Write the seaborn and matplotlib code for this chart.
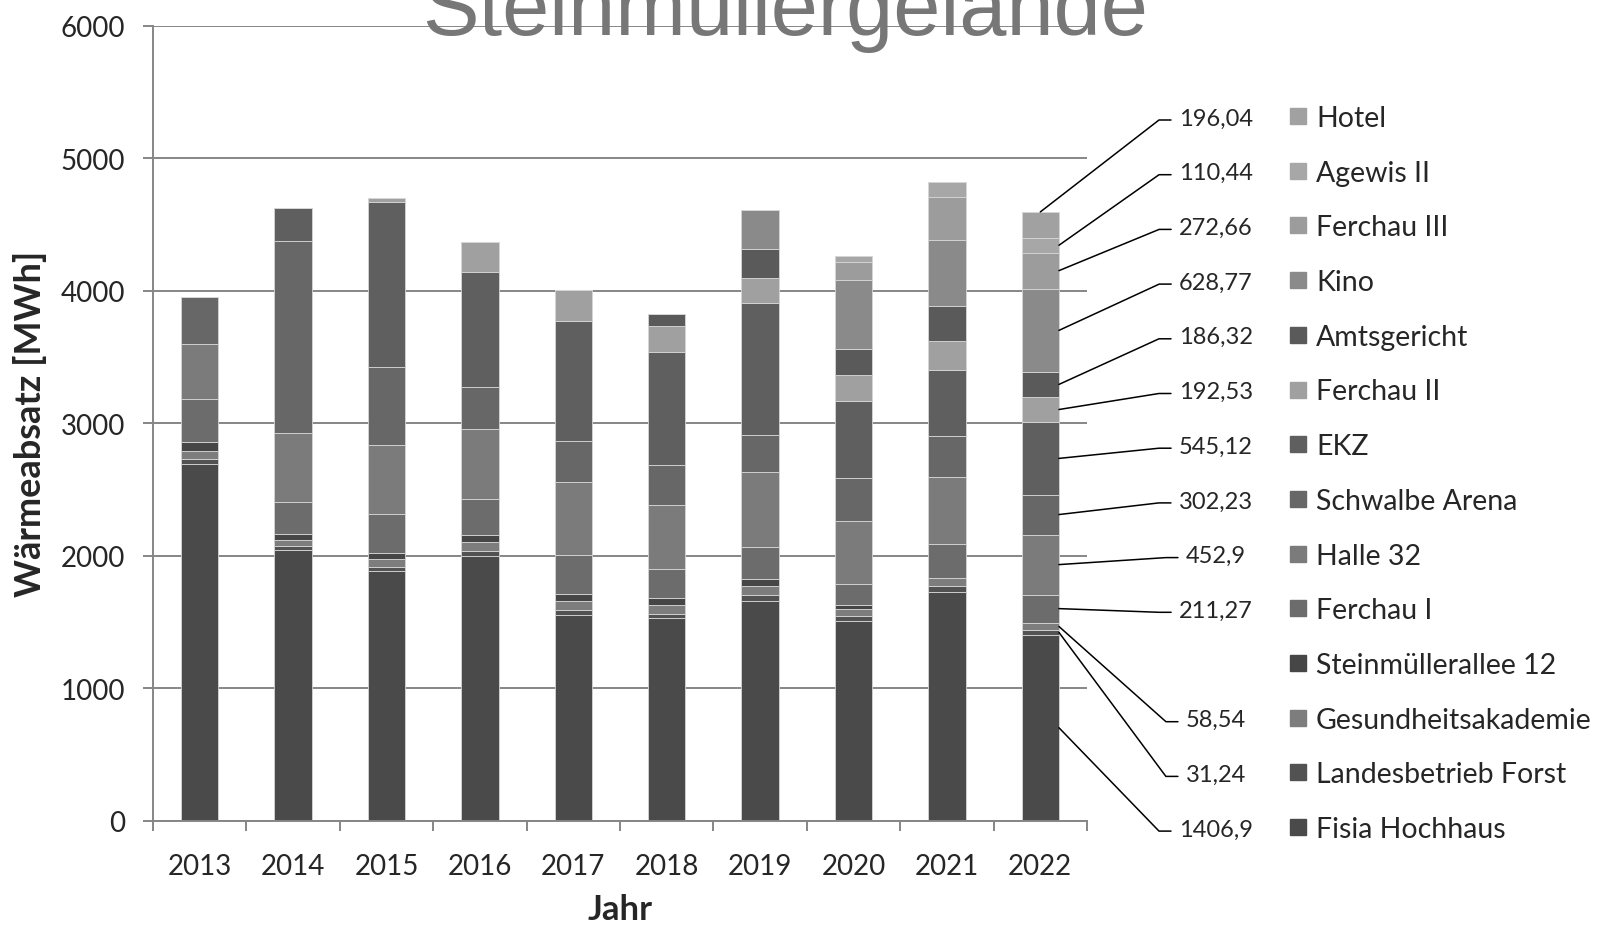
import numpy as np
import matplotlib
matplotlib.use('Agg')
import matplotlib.pyplot as plt
from matplotlib.lines import Line2D
from matplotlib.patches import Rectangle
import seaborn as sns

# Jahre und Verbraucher (Reihenfolge von unten nach oben im Stapel)
jahre = ["2013", "2014", "2015", "2016", "2017", "2018", "2019", "2020", "2021", "2022"]
objekte = ["Fisia Hochhaus", "Landesbetrieb Forst", "Gesundheitsakademie", "Steinmüllerallee 12",
           "Ferchau I", "Halle 32", "Schwalbe Arena", "EKZ", "Ferchau II", "Amtsgericht",
           "Kino", "Ferchau III", "Agewis II", "Hotel"]

# Wärmeabsatz in MWh je Objekt und Jahr (2013 ... 2022)
fisia_hochhaus = [2691, 2048, 1887, 1997, 1553, 1535, 1663, 1508, 1731, 1406.9]
landesbetrieb_forst = [38, 27, 28, 43, 37, 30, 43, 37, 43, 31.24]
gesundheitsakademie = [63, 48, 65, 68, 73, 68, 70, 58, 63, 58.54]
steinmuellerallee_12 = [65, 45, 40, 53, 46, 50, 46, 25, 0, 0]
ferchau_1 = [327, 242, 299, 271, 297, 220, 243, 162, 251, 211.27]
halle_32 = [417, 515, 515, 523, 555, 479, 571, 476, 508, 452.9]
schwalbe_arena = [351, 1454, 593, 322, 309, 302, 279, 320, 309, 302.23]
ekz = [0, 249, 1244, 864, 901, 854, 992, 583, 495, 545.12]
ferchau_2 = [0, 0, 30, 228, 234, 193, 193, 193, 224, 192.53]
amtsgericht = [0, 0, 0, 0, 0, 96, 219, 201, 261, 186.32]
kino = [0, 0, 0, 0, 0, 0, 294, 520, 497, 628.77]
ferchau_3 = [0, 0, 0, 0, 0, 0, 0, 131, 322, 272.66]
agewis_2 = [0, 0, 0, 0, 0, 0, 0, 50, 120, 110.44]
hotel = [0, 0, 0, 0, 0, 0, 0, 0, 0, 196.04]

werte = [fisia_hochhaus, landesbetrieb_forst, gesundheitsakademie, steinmuellerallee_12,
         ferchau_1, halle_32, schwalbe_arena, ekz, ferchau_2, amtsgericht,
         kino, ferchau_3, agewis_2, hotel]

farben = ["#4a4a4a", "#525252", "#7d7d7d", "#464646", "#6c6c6c", "#7b7b7b", "#676767",
          "#5f5f5f", "#a0a0a0", "#5a5a5a", "#8a8a8a", "#9c9c9c", "#a7a7a7", "#a1a1a1"]

W, H = 1609, 928
sns.set_theme(style="white")
plt.rcParams['font.family'] = ['Lato', 'DejaVu Sans']

fig = plt.figure(figsize=(W / 100, H / 100), dpi=100)
ax = fig.add_axes([153 / W, 1 - 822 / H, (1087 - 153) / W, (822 - 26.7) / H])

# Gestapelte Säulen
bottom = np.zeros(len(jahre))
for name, vals, col in zip(objekte, werte, farben):
    sns.barplot(x=jahre, y=vals, bottom=bottom, color=col, width=0.4, errorbar=None,
                saturation=1, edgecolor="#d6d6d6", linewidth=0.6, ax=ax)
    bottom = bottom + np.array(vals, dtype=float)

grau = "#868686"
ax.set_xlim(-0.5, 9.5)
ax.set_ylim(0, 6000)
ax.set_yticks(range(0, 6001, 1000))
ax.yaxis.grid(True, color=grau, linewidth=1.4)
ax.set_axisbelow(True)
for s in ["top", "right"]:
    ax.spines[s].set_visible(False)
for s in ["left", "bottom"]:
    ax.spines[s].set_color(grau)
    ax.spines[s].set_linewidth(1.4)

ax.tick_params(axis='y', length=7, width=1.4, color=grau, pad=13, labelsize=20, left=True)
ax.set_xticks(np.arange(-0.5, 10, 1), minor=True)
ax.tick_params(axis='x', which='major', length=0, pad=23, labelsize=20)
ax.tick_params(axis='x', which='minor', length=7, width=1.4, color=grau, bottom=True)

ax.set_xlabel("Jahr", fontsize=25, fontweight='bold')
ax.set_ylabel("Wärmeabsatz [MWh]", fontsize=26, fontweight='bold')
ax.xaxis.set_label_coords(0.5, -0.091)
ax.yaxis.set_label_coords(-0.1135, 0.5)

# Titel (oben abgeschnitten wie im Original)
fig.text(785 / W, 1 - 35 / H, "Steinmüllergelände", ha='center', va='baseline',
         fontsize=61, color="#777777", family=['Liberation Sans', 'DejaVu Sans'])

# Legende (manuell, Reihenfolge umgekehrt)
zeile0, abstand = 119, 54.7
n = len(objekte)
for j, (name, col) in enumerate(zip(objekte, farben)):
    ry = zeile0 + (n - 1 - j) * abstand
    fig.add_artist(Rectangle((1290 / W, 1 - (ry + 6) / H), 16 / W, 16 / H,
                             transform=fig.transFigure, color=col))
    fig.text(1316 / W, 1 - ry / H, name, ha='left', va='center', fontsize=20.5)

# Datenbeschriftungen 2022 mit Führungslinien
renderer = fig.canvas.get_renderer()
inv = fig.transFigure.inverted()
letzte = [v[-1] for v in werte]
kum = np.cumsum(letzte)
for j, v in enumerate(letzte):
    if v == 0:
        continue
    ry = zeile0 + (n - 1 - j) * abstand
    txt = f"{v:g}".replace('.', ',')
    t = fig.text(1216 / W, 1 - ry / H, txt, ha='center', va='center', fontsize=17)
    bb = t.get_window_extent(renderer=renderer)
    ym = (bb.y0 + bb.y1) / 2 - 2
    if j == n - 1:
        p = ax.transData.transform((9, kum[j]))
    else:
        p = ax.transData.transform((9.2, kum[j] - v / 2))
    pts = np.array([p, (bb.x0 - 20, ym), (bb.x0 - 8, ym)])
    fp = inv.transform(pts)
    fig.add_artist(Line2D(fp[:, 0], fp[:, 1], transform=fig.transFigure,
                          color='black', linewidth=1.1))

fig.savefig("out.png", dpi=100)
